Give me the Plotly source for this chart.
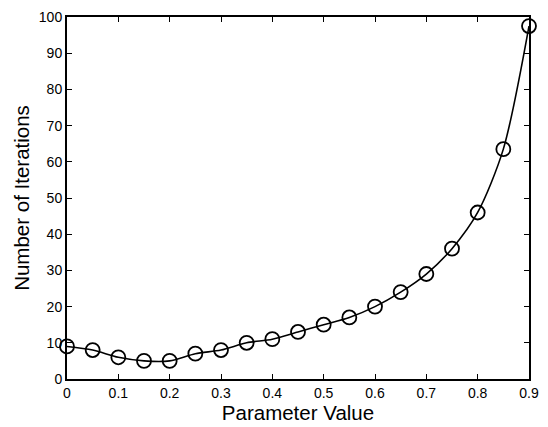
import plotly.graph_objects as go

param = [0, 0.05, 0.1, 0.15, 0.2, 0.25, 0.3, 0.35, 0.4, 0.45, 0.5, 0.55, 0.6, 0.65, 0.7, 0.75, 0.8, 0.85, 0.9]
iterations = [9, 8, 6, 5, 5, 7, 8, 10, 11, 13, 15, 17, 20, 24, 29, 36, 46, 63.5, 97.5]
xticks = [0, 0.1, 0.2, 0.3, 0.4, 0.5, 0.6, 0.7, 0.8, 0.9]
xticklabels = ["0", "0.1", "0.2", "0.3", "0.4", "0.5", "0.6", "0.7", "0.8", "0.9"]
yticks = [0, 10, 20, 30, 40, 50, 60, 70, 80, 90, 100]

fig = go.Figure()
fig.add_trace(go.Scatter(
    x=param, y=iterations, mode="lines+markers",
    line=dict(color="black", width=1.6, shape="spline", smoothing=0.8),
    marker=dict(symbol="circle-open", size=14, color="black", line=dict(width=1.8, color="black")),
    showlegend=False, cliponaxis=False,
))

axis_common = dict(
    showline=True, linecolor="black", linewidth=2, mirror="ticks",
    ticks="inside", ticklen=5, tickwidth=1, tickcolor="black",
    showgrid=False, zeroline=False,
    tickfont=dict(family="Liberation Sans, Arial", size=14, color="black"),
)
fig.update_xaxes(range=[0, 0.9], tickvals=xticks, ticktext=xticklabels,
                 title=dict(text="Parameter Value", font=dict(family="Liberation Sans, Arial", size=20.5, color="black"), standoff=2),
                 **axis_common)
fig.update_yaxes(range=[0, 100], tickvals=yticks, ticklabelstandoff=0,
                 title=dict(text="Number of Iterations", font=dict(family="Liberation Sans, Arial", size=20.5, color="black"), standoff=4),
                 **axis_common)
fig.update_layout(
    width=548, height=427,
    margin=dict(l=67, r=9, t=10, b=48),
    paper_bgcolor="white", plot_bgcolor="white",
)
fig.write_html("out.html")
